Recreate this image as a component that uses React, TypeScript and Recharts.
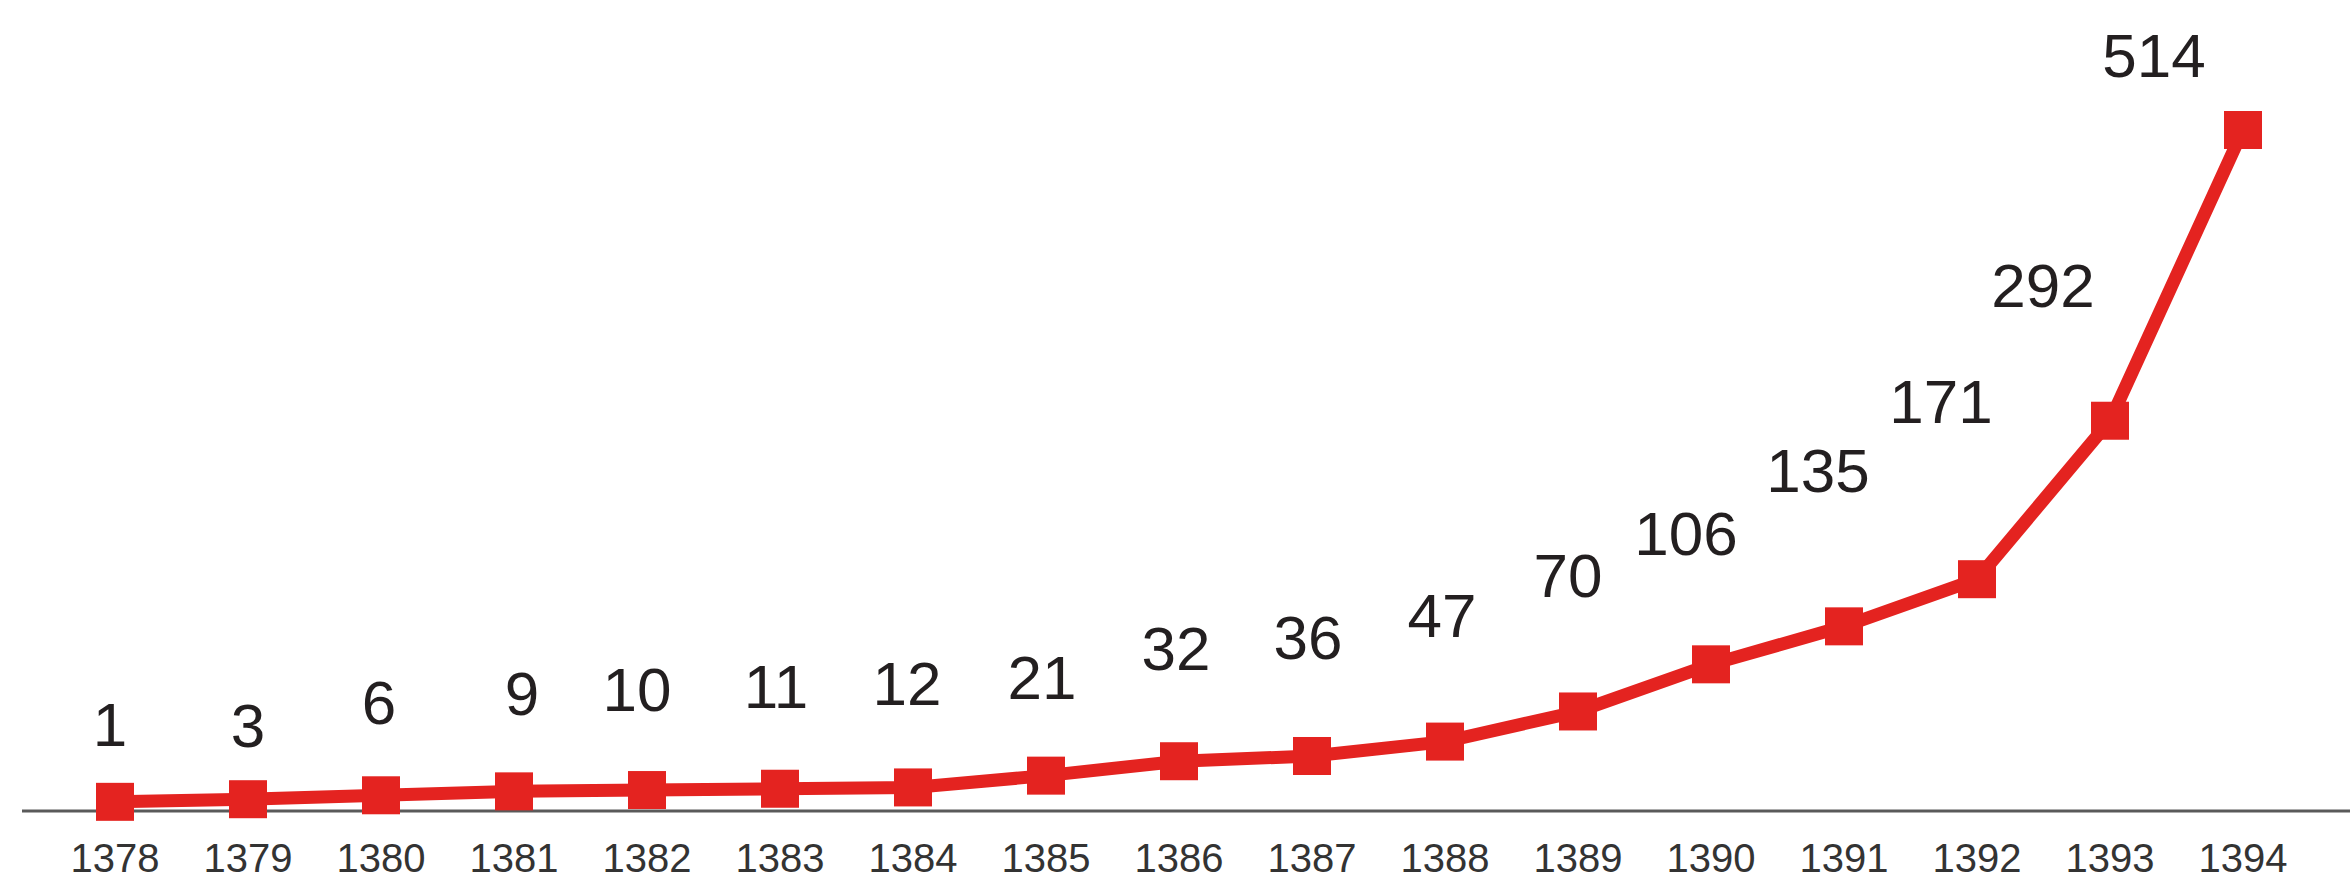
import { LineChart, Line, XAxis, YAxis } from "recharts";

const years = [1378, 1379, 1380, 1381, 1382, 1383, 1384, 1385, 1386, 1387, 1388, 1389, 1390, 1391, 1392, 1393, 1394];
const counts = [1, 3, 6, 9, 10, 11, 12, 21, 32, 36, 47, 70, 106, 135, 171, 292, 514];

// the value labels are placed by hand in the original, so keep a (dx, dy) per marker
const labelShift: [number, number][] = [
  [-5, -78], [0, -75], [-2, -94], [8, -99], [-10, -101], [-4, -103], [-6, -105],
  [-4, -99], [-3, -114], [-4, -119], [-3, -127], [-10, -137], [-25, -132],
  [-26, -157], [-36, -179], [-67, -136], [-89, -75],
];

const data = years.map((year, i) => ({ year, count: counts[i] }));

const RED = "#e42320";
const W = 2350;
const H = 883;

function Marker(props: any) {
  const { cx, cy, index, payload } = props;
  if (cx == null || cy == null) return null;
  const [dx, dy] = labelShift[index] || [0, -80];
  const size = 38;
  return (
    <g key={`marker-${index}`}>
      <rect x={cx - size / 2} y={cy - size / 2} width={size} height={size} fill={RED} />
      <text
        x={cx + dx}
        y={cy + dy}
        dy="0.36em"
        textAnchor="middle"
        fill="#231f20"
        fontSize={62}
        fontFamily="'Liberation Sans', Arial, sans-serif"
      >
        {payload.count}
      </text>
    </g>
  );
}

export default function App() {
  return (
    <div style={{ position: "absolute", left: 0, top: 0, width: W, height: H, background: "#fff" }}>
      <LineChart width={W} height={H} data={data} margin={{ top: 130, right: 0, bottom: 0, left: 22 }}>
        <XAxis
          dataKey="year"
          type="number"
          domain={[1378, 1394]}
          ticks={years}
          interval={0}
          padding={{ left: 93, right: 107 }}
          height={72}
          axisLine={{ stroke: "#5a5a5a", strokeWidth: 3 }}
          tickLine={false}
          tickSize={0}
          tickMargin={33}
          tick={{ fill: "#333", fontSize: 40, fontFamily: "'Liberation Sans Narrow', 'Arial Narrow', sans-serif" }}
        />
        <YAxis hide type="number" domain={[-6, 514]} />
        <Line
          type="linear"
          dataKey="count"
          stroke={RED}
          strokeWidth={13}
          dot={<Marker />}
          activeDot={false}
          isAnimationActive={false}
        />
      </LineChart>
    </div>
  );
}
